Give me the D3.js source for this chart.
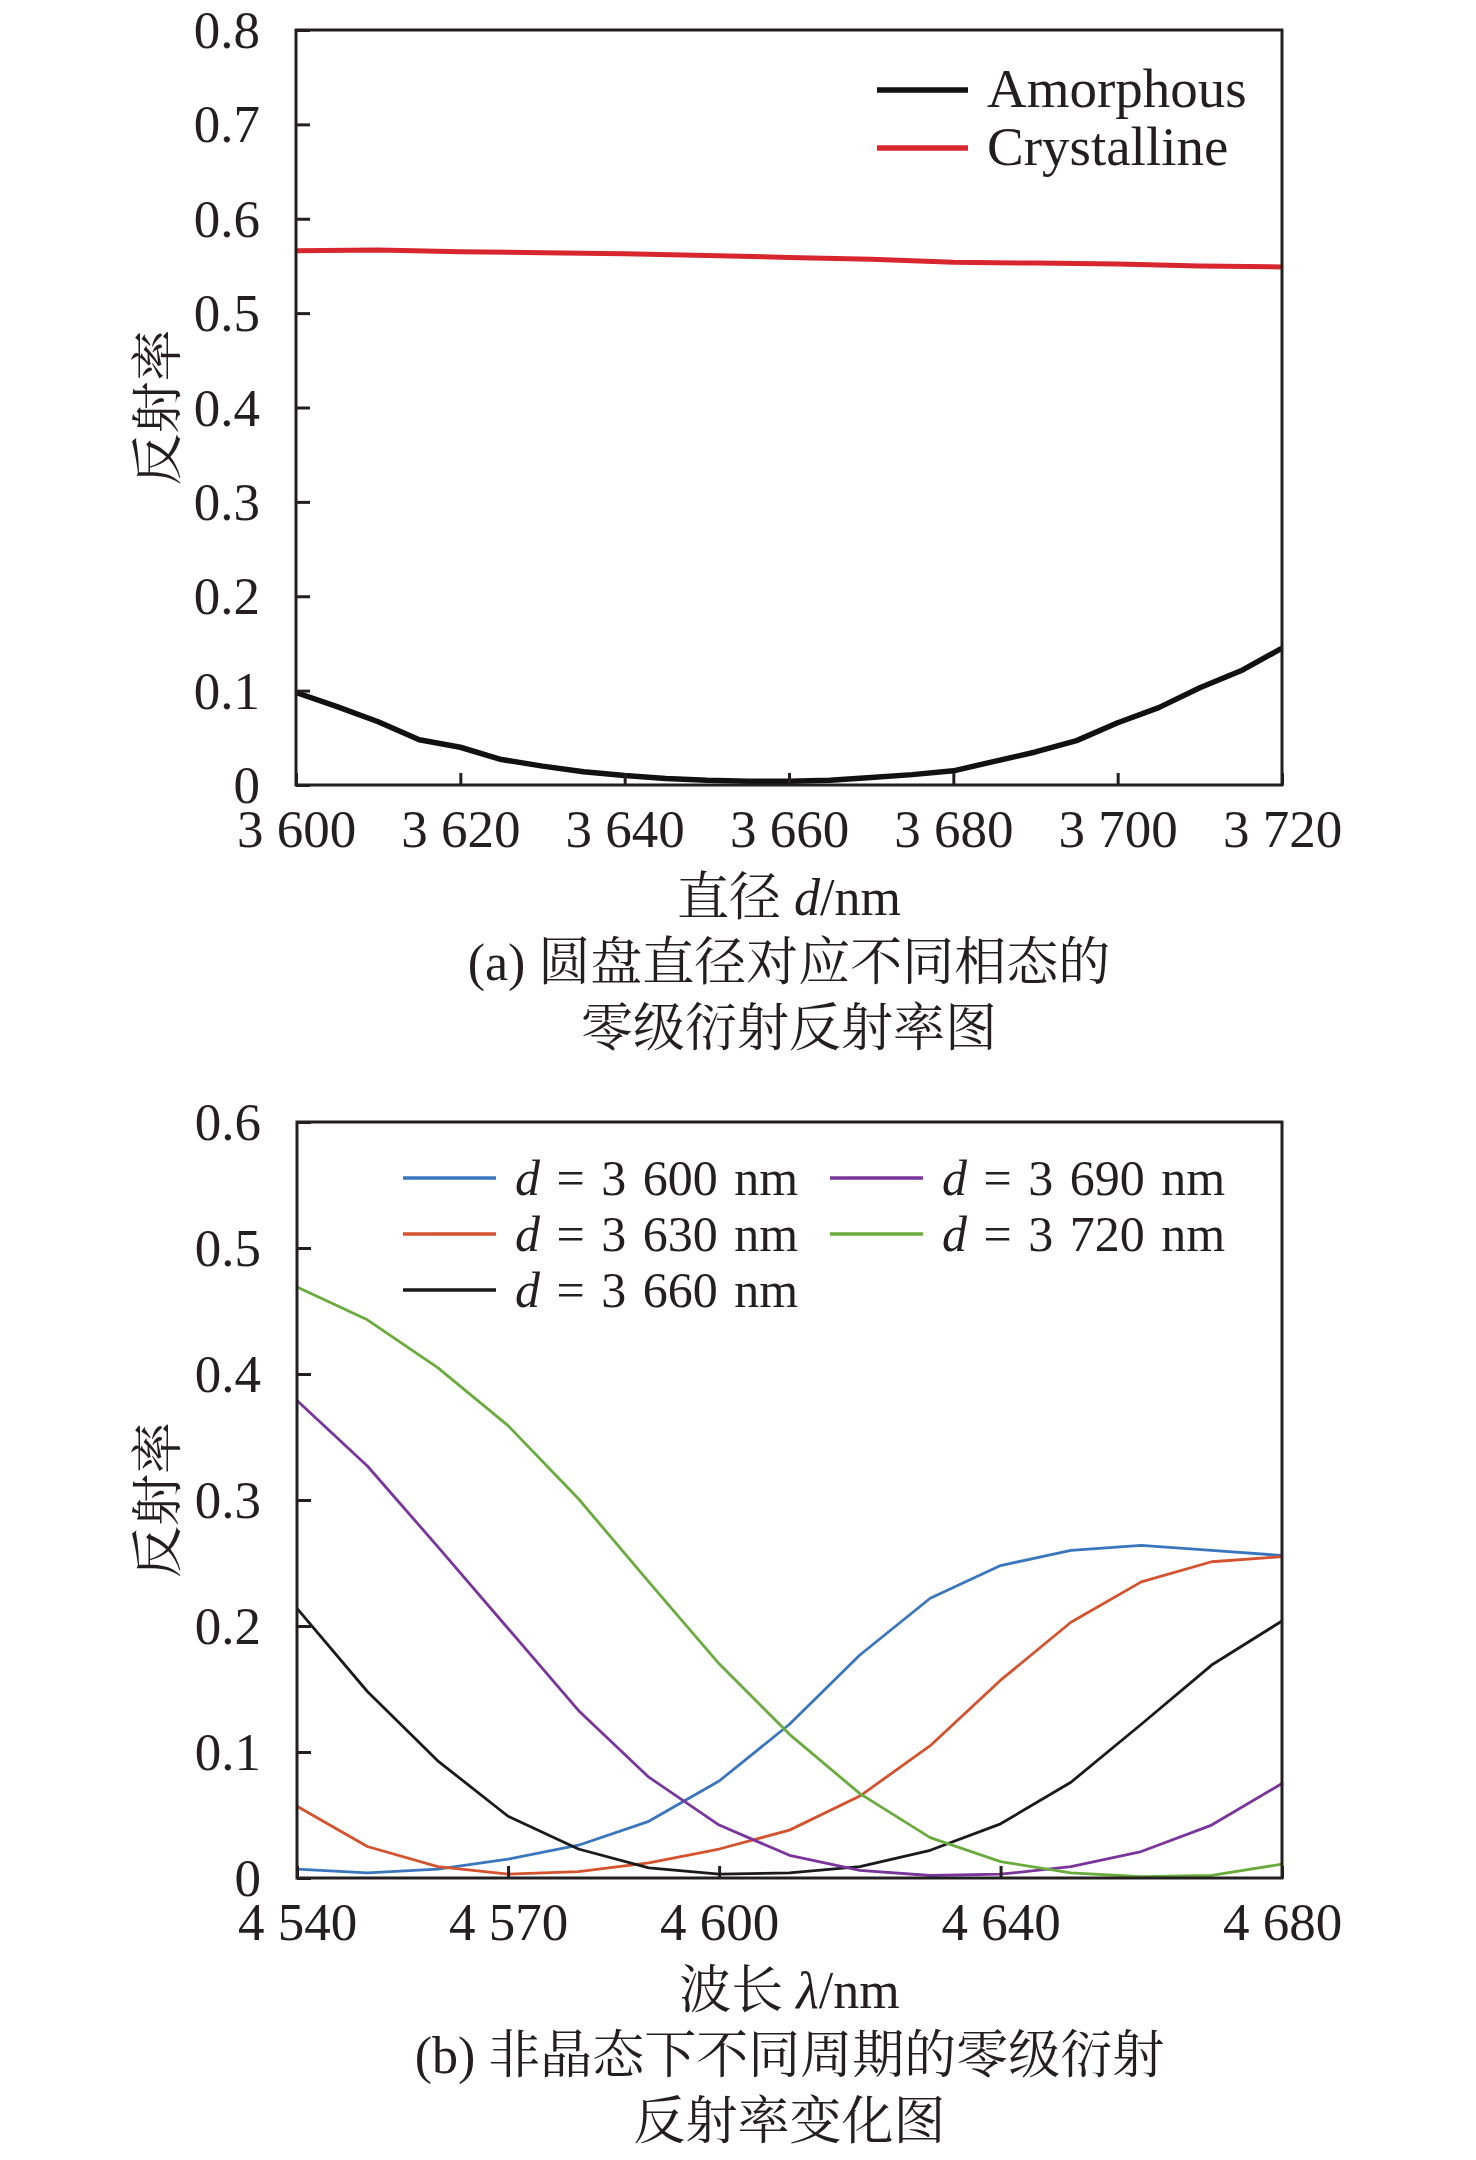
<!DOCTYPE html>
<html><head><meta charset="utf-8">
<script src="https://cdn.jsdelivr.net/npm/d3@7"></script>
<style>
html,body{margin:0;padding:0;background:#fff;}
svg{display:block;}
text{font-family:"Liberation Serif","Times New Roman",serif;fill:#231f20;}
.cjk{font-family:"Liberation Serif","Noto Serif CJK SC","Noto Sans CJK SC",serif;}
</style></head>
<body>
<svg id="chart" width="1476" height="2160"></svg>
<script>
// ---------- Panel (a) data ----------
const diameterA = [3600,3605,3610,3615,3620,3625,3630,3635,3640,3645,3650,3655,3660,3665,3670,3675,3680,3685,3690,3695,3700,3705,3710,3715,3720];
const amorphous = [0.098,0.083,0.067,0.048,0.040,0.027,0.020,0.014,0.010,0.007,0.005,0.004,0.004,0.005,0.008,0.011,0.015,0.025,0.035,0.047,0.066,0.082,0.103,0.121,0.145];
const diameterC = [3600,3610,3620,3630,3640,3650,3660,3670,3680,3690,3700,3710,3720];
const crystalline = [0.566,0.567,0.565,0.564,0.563,0.561,0.559,0.557,0.554,0.553,0.552,0.550,0.549];
const xTicksA = [3600,3620,3640,3660,3680,3700,3720];
const yTicksA = [0,0.1,0.2,0.3,0.4,0.5,0.6,0.7,0.8];
const legendA = ["Amorphous","Crystalline"];

// ---------- Panel (b) data ----------
const wavelength = [4540,4550,4560,4570,4580,4590,4600,4610,4620,4630,4640,4650,4660,4670,4680];
const d3600 = [0.007,0.004,0.007,0.015,0.026,0.045,0.077,0.122,0.177,0.222,0.248,0.260,0.264,0.260,0.256];
const d3630 = [0.057,0.025,0.009,0.003,0.005,0.012,0.023,0.038,0.065,0.105,0.157,0.203,0.235,0.251,0.255];
const d3660 = [0.214,0.148,0.093,0.049,0.023,0.008,0.003,0.004,0.009,0.022,0.043,0.076,0.122,0.169,0.204];
const d3690 = [0.379,0.327,0.263,0.198,0.133,0.080,0.042,0.018,0.006,0.002,0.003,0.009,0.021,0.042,0.075];
const d3720 = [0.469,0.443,0.405,0.359,0.301,0.235,0.170,0.114,0.067,0.032,0.013,0.004,0.001,0.002,0.011];
const seriesNamesB = ["3 600","3 630","3 660","3 690","3 720"];
const xTicksB = [4540,4570,4600,4640,4680];
const yTicksB = [0,0.1,0.2,0.3,0.4,0.5,0.6];

const svg = d3.select("#chart");
const fmtNm = v => { const s = String(v); return s.slice(0,1) + " " + s.slice(1); };
const fmtY = v => v === 0 ? "0" : d3.format(".1f")(v);
const axisColor = "#231f20";

function frame(g, x, y, xTicks, yTicks, yTitle, xTitleParts, cap1, cap2) {
  const [x0, x1] = x.range();
  const [y0, y1] = y.range(); // y0 bottom
  const yAxis = d3.axisLeft(y).tickValues(yTicks).tickSize(-14).tickFormat(fmtY).tickPadding(36);
  const gy = g.append("g").attr("transform", `translate(${x0},0)`).call(yAxis).attr("font-family", null);
  gy.select(".domain").remove();
  gy.selectAll("line").attr("stroke", axisColor).attr("stroke-width", 3);
  gy.selectAll("text").style("font-size", "53px").attr("fill", axisColor).attr("dy", "0.33em");
  const xAxis = d3.axisBottom(x).tickValues(xTicks).tickSize(-12).tickFormat(fmtNm).tickPadding(0);
  const gx = g.append("g").attr("transform", `translate(0,${y0})`).call(xAxis).attr("font-family", null);
  gx.select(".domain").remove();
  gx.selectAll("line").attr("stroke", axisColor).attr("stroke-width", 3);
  gx.selectAll("text").style("font-size", "53px").attr("fill", axisColor).attr("y", 62).attr("dy", 0);
  g.append("rect").attr("x", x0).attr("y", y1).attr("width", x1 - x0).attr("height", y0 - y1)
    .attr("fill", "none").attr("stroke", axisColor).attr("stroke-width", 3);
  const cy = (y0 + y1) / 2;
  g.append("text").attr("class", "cjk").attr("transform", `translate(176,${cy}) rotate(-90)`)
    .attr("text-anchor", "middle").style("font-size", "52px").text(yTitle);
  const cx = (x0 + x1) / 2;
  const t = g.append("text").attr("x", cx).attr("y", y0 + 130).attr("text-anchor", "middle").style("font-size", "52px");
  t.append("tspan").attr("class", "cjk").text(xTitleParts[0]);
  t.append("tspan").style("font-style", "italic").text(xTitleParts[1]);
  t.append("tspan").text(xTitleParts[2]);
  g.append("text").attr("class", "cjk").attr("x", cx).attr("y", y0 + 195).attr("text-anchor", "middle").style("font-size", "52px").text(cap1);
  g.append("text").attr("class", "cjk").attr("x", cx).attr("y", y0 + 261).attr("text-anchor", "middle").style("font-size", "52px").text(cap2);
}

// ---------- Panel (a) ----------
const xA = d3.scaleLinear().domain([3600, 3720]).range([296, 1282]);
const yA = d3.scaleLinear().domain([0, 0.8]).range([785, 30]);
const gA = svg.append("g");
const lineA = d3.line().x(d => xA(d[0])).y(d => yA(d[1]));
gA.append("path").datum(diameterC.map((d, i) => [d, crystalline[i]]))
  .attr("d", lineA).attr("fill", "none").attr("stroke", "#d7262e").attr("stroke-width", 5);
gA.append("path").datum(diameterA.map((d, i) => [d, amorphous[i]]))
  .attr("d", lineA).attr("fill", "none").attr("stroke", "#111111").attr("stroke-width", 5.5).attr("stroke-linejoin", "round");
frame(gA, xA, yA, xTicksA, yTicksA, "反射率", ["直径 ", "d", "/nm"], "(a) 圆盘直径对应不同相态的", "零级衍射反射率图");
const legColA = ["#111111", "#d7262e"];
legendA.forEach((name, i) => {
  const ly = 90 + i * 58;
  gA.append("line").attr("x1", 877).attr("x2", 968).attr("y1", ly).attr("y2", ly)
    .attr("stroke", legColA[i]).attr("stroke-width", 5.5);
  gA.append("text").attr("x", 987).attr("y", ly).attr("dy", "0.3em").style("font-size", "55px").text(name);
});

// ---------- Panel (b) ----------
const xB = d3.scaleLinear().domain([4540, 4680]).range([297, 1282]);
const yB = d3.scaleLinear().domain([0, 0.6]).range([1878, 1122]);
const gB = svg.append("g");
const colorsB = ["#3a76bd", "#d4522d", "#1a1a1a", "#7a359d", "#6aab3e"];
const seriesB = [d3600, d3630, d3660, d3690, d3720];
const lineB = d3.line().x((d, i) => xB(wavelength[i])).y(d => yB(d));
seriesB.forEach((s, k) => {
  gB.append("path").datum(s).attr("d", lineB).attr("fill", "none")
    .attr("stroke", colorsB[k]).attr("stroke-width", 2.8).attr("stroke-linejoin", "round");
});
frame(gB, xB, yB, xTicksB, yTicksB, "反射率", ["波长 ", "λ", "/nm"], "(b) 非晶态下不同周期的零级衍射", "反射率变化图");
seriesNamesB.forEach((name, k) => {
  const col = Math.floor(k / 3), row = k % 3;
  const lx = col === 0 ? 403 : 830;
  const ly = 1178 + row * 56;
  gB.append("line").attr("x1", lx).attr("x2", lx + 93).attr("y1", ly).attr("y2", ly)
    .attr("stroke", colorsB[k]).attr("stroke-width", 3.5);
  const t = gB.append("text").attr("x", lx + 112).attr("y", ly).attr("dy", "0.33em")
    .style("font-size", "50px").style("word-spacing", "4px");
  t.append("tspan").style("font-style", "italic").text("d");
  t.append("tspan").text(" = " + name + " nm");
});
</script>
</body></html>
